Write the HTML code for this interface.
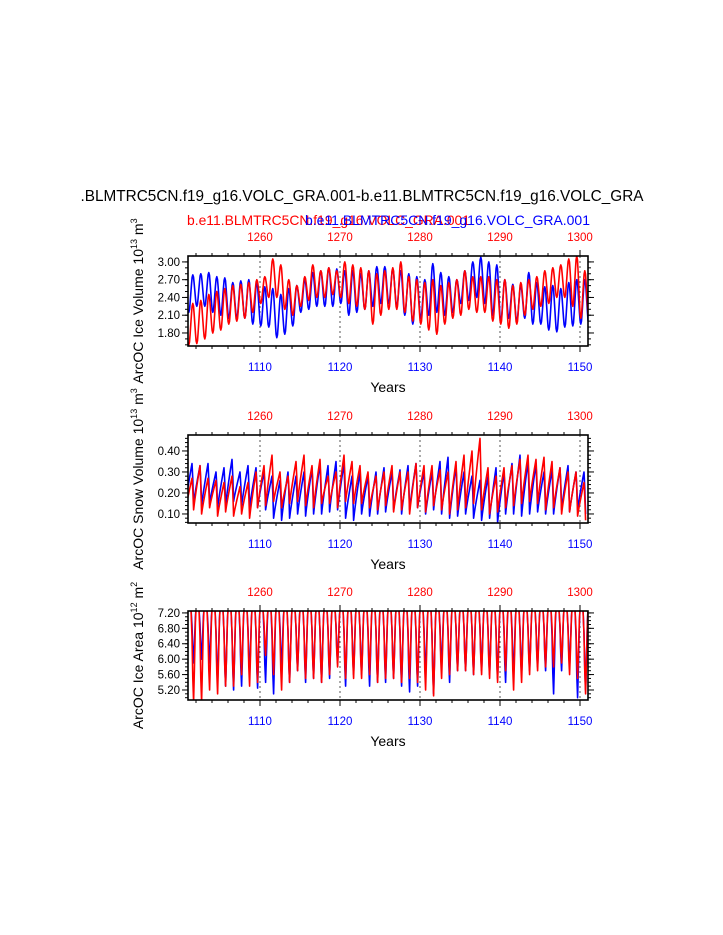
<!DOCTYPE html>
<html><head><meta charset="utf-8"><style>
body{margin:0;background:#fff}
svg{display:block;font-family:"Liberation Sans",sans-serif}
</style></head><body>
<svg id="s" width="723" height="935" viewBox="0 0 723 935">
<text x="362" y="201" font-size="16" text-anchor="middle" textLength="563" lengthAdjust="spacingAndGlyphs">.BLMTRC5CN.f19_g16.VOLC_GRA.001-b.e11.BLMTRC5CN.f19_g16.VOLC_GRA</text>
<text x="187" y="225" font-size="14" fill="#f00" textLength="283" lengthAdjust="spacingAndGlyphs">b.e11.BLMTRC5CN.f19_g16.VOLC_GRA.001</text>
<text x="305" y="225" font-size="14" fill="#00f" textLength="285" lengthAdjust="spacingAndGlyphs">b.e11.BLMTRC5CN.f19_g16.VOLC_GRA.001</text>
</svg>
<script>
const years=[];for(let y=1101;y<=1150;y++)years.push(y);
const bottomTicks=[1110,1120,1130,1140,1150];
const topTicks=[1260,1270,1280,1290,1300];
const volTicks=[1.80,2.10,2.40,2.70,3.00];
const snowTicks=[0.10,0.20,0.30,0.40];
const areaTicks=[5.20,5.60,6.00,6.40,6.80,7.20];
const volBlueMax=[2.78,2.80,2.82,2.75,2.73,2.65,2.68,2.70,2.65,2.58,2.55,2.45,2.55,2.60,2.70,2.82,2.85,2.90,2.88,2.85,2.85,2.80,2.85,2.92,2.92,2.88,2.85,2.80,2.75,2.70,2.97,2.82,2.75,2.70,2.85,3.00,3.08,3.00,2.95,2.70,2.62,2.60,2.82,2.65,2.58,2.60,2.55,2.65,2.70,2.70];
const volBlueMin=[2.15,2.25,2.25,2.15,2.10,2.05,2.05,2.05,1.95,1.92,1.90,1.72,1.78,1.92,2.15,2.20,2.25,2.25,2.25,2.30,2.10,2.15,2.20,2.25,2.30,2.30,2.25,2.10,1.95,2.05,2.10,2.15,2.10,2.15,2.30,2.35,2.40,2.30,2.10,2.00,2.05,2.00,2.05,1.95,1.95,1.85,1.82,1.90,1.92,1.95];
const volRedMax=[2.30,2.35,2.45,2.50,2.55,2.60,2.62,2.65,2.70,2.75,3.05,2.95,2.70,2.60,2.75,2.95,2.85,2.90,2.85,3.00,2.95,2.90,2.85,2.80,2.85,2.90,3.00,2.75,2.70,2.65,2.70,2.60,2.65,2.70,2.85,2.75,2.75,2.75,2.70,2.70,2.60,2.65,2.70,2.75,2.85,2.90,2.95,3.05,3.10,2.85];
const volRedMin=[1.60,1.62,1.70,1.80,1.85,1.95,2.00,2.05,2.15,2.30,2.40,2.40,2.20,2.10,2.25,2.35,2.40,2.40,2.45,2.40,2.30,2.25,2.20,1.95,2.10,2.20,2.20,2.15,2.00,1.95,1.85,1.78,1.95,2.05,2.10,2.20,2.15,2.15,2.00,1.95,1.88,1.95,2.10,2.20,2.25,2.30,2.40,2.40,2.25,2.05];
const snowBlueMax=[0.34,0.33,0.34,0.30,0.32,0.36,0.30,0.33,0.32,0.30,0.28,0.26,0.30,0.28,0.30,0.32,0.34,0.33,0.35,0.34,0.28,0.30,0.28,0.30,0.32,0.30,0.31,0.33,0.34,0.30,0.30,0.35,0.37,0.33,0.30,0.28,0.26,0.28,0.32,0.30,0.34,0.38,0.35,0.34,0.30,0.31,0.32,0.33,0.30,0.30];
const snowBlueMin=[0.15,0.14,0.15,0.13,0.14,0.16,0.14,0.13,0.13,0.12,0.08,0.07,0.08,0.10,0.09,0.10,0.10,0.11,0.12,0.08,0.07,0.10,0.09,0.10,0.11,0.12,0.10,0.12,0.13,0.10,0.12,0.10,0.08,0.09,0.10,0.08,0.07,0.08,0.06,0.10,0.10,0.09,0.10,0.11,0.10,0.10,0.12,0.11,0.12,0.10];
const snowRedMax=[0.27,0.33,0.27,0.26,0.25,0.28,0.23,0.25,0.30,0.33,0.38,0.30,0.28,0.35,0.38,0.33,0.36,0.28,0.30,0.38,0.35,0.33,0.30,0.28,0.30,0.33,0.30,0.30,0.34,0.33,0.33,0.31,0.30,0.35,0.38,0.40,0.46,0.32,0.28,0.32,0.33,0.36,0.38,0.36,0.37,0.35,0.32,0.30,0.30,0.25];
const snowRedMin=[0.12,0.10,0.13,0.09,0.11,0.09,0.10,0.08,0.13,0.14,0.16,0.13,0.15,0.16,0.14,0.13,0.15,0.15,0.13,0.16,0.15,0.15,0.13,0.12,0.14,0.11,0.12,0.10,0.13,0.11,0.14,0.12,0.10,0.12,0.13,0.15,0.12,0.10,0.11,0.13,0.14,0.15,0.16,0.15,0.12,0.13,0.10,0.11,0.09,0.07];
const areaBlueMin=[5.9,6.0,5.9,5.4,5.3,5.2,5.3,5.6,5.25,5.4,5.1,5.8,5.4,5.7,5.4,5.5,5.4,5.5,5.9,5.3,5.6,5.6,5.3,5.4,5.4,5.5,5.3,5.15,5.3,5.6,5.1,5.8,5.4,5.7,5.7,5.6,5.7,5.6,5.5,5.4,5.6,5.6,5.7,5.8,5.7,5.1,5.7,5.8,5.0,5.2];
const areaRedMin=[4.9,4.9,5.2,5.1,5.3,5.3,5.6,5.3,5.4,6.1,5.6,5.2,5.4,5.7,5.5,5.5,5.4,5.6,5.8,5.5,5.5,5.5,5.6,5.4,5.5,5.5,5.4,5.5,5.4,5.2,5.05,5.5,5.6,5.7,5.7,5.6,5.6,5.5,5.4,5.7,5.2,5.4,5.6,5.7,5.8,5.8,5.9,5.6,5.5,5.1];
const areaMax=7.3;

const NS="http://www.w3.org/2000/svg";
const svg=document.getElementById('s');
const X0=188,X1=588,T0=1101,T1=1151;
const xs=t=>X0+(t-T0)*(X1-X0)/(T1-T0);
function mk(tag,at,parent){const e=document.createElementNS(NS,tag);for(const k in at)e.setAttribute(k,at[k]);(parent||svg).appendChild(e);return e;}
const panels=[
 {top:256,bot:346,lo:1.58,hi:3.10,ticks:volTicks,minor:0.1,ttl:'ArcOC Ice Volume 10',exp:'13',unit:' m',uexp:'3',name:'ice-volume'},
 {top:435,bot:523,lo:0.057,hi:0.476,ticks:snowTicks,minor:0.02,ttl:'ArcOC Snow Volume 10',exp:'13',unit:' m',uexp:'3',name:'snow-volume'},
 {top:611,bot:700,lo:4.94,hi:7.25,ticks:areaTicks,minor:0.1,ttl:'ArcOC Ice Area 10',exp:'12',unit:' m',uexp:'2',name:'ice-area'}];
const cos=(a,b,f)=>a+(b-a)*(1-Math.cos(Math.PI*f))/2;
function volSeries(mx,mn){const p=[];for(let i=0;i<years.length;i++){const y=years[i];const nmn=i+1<mn.length?mn[i+1]:mn[i];const pmn=mn[i];
 for(let k=0;k<6;k++)p.push([y+0.1+k/12,cos(pmn,mx[i],k/6)]);for(let k=0;k<6;k++)p.push([y+0.6+k/12,cos(mx[i],nmn,k/6)]);}
 p.unshift([T0-0.4,mn[0]]);return p;}
function snowSeries(mx,mn){const p=[];for(let i=0;i<years.length;i++){const y=years[i];const pmn=i>0?mn[i-1]:mn[0];
 for(let k=0;k<8;k++)p.push([y-0.3+k*0.1,pmn+(mx[i]-pmn)*Math.pow(k/8,0.9)]);p.push([y+0.5,mx[i]]);p.push([y+0.6,(mx[i]+mn[i])/2+0.02]);}
 p.push([T1-0.3,mn[mn.length-1]]);return p;}
function areaSeries(mn){const p=[[T0-0.5,areaMax]];for(let i=0;i<years.length;i++){const y=years[i];const dd=areaMax-mn[i];
 p.push([y+0.38,areaMax]);p.push([y+0.5,areaMax-dd*0.3]);p.push([y+0.6,areaMax-dd*0.75]);p.push([y+0.7,mn[i]]);p.push([y+0.8,areaMax-dd*0.65]);p.push([y+0.92,areaMax-dd*0.15]);p.push([y+1.0,areaMax]);}
 return p;}
const series=[
 [['blue',volSeries(volBlueMax,volBlueMin)],['red',volSeries(volRedMax,volRedMin)]],
 [['blue',snowSeries(snowBlueMax,snowBlueMin)],['red',snowSeries(snowRedMax,snowRedMin)]],
 [['blue',areaSeries(areaBlueMin)],['red',areaSeries(areaRedMin)]]];
panels.forEach((P,pi)=>{
 const ys=v=>P.bot-(v-P.lo)*(P.bot-P.top)/(P.hi-P.lo);
 const g=mk('g',{});
 const cid='c'+pi;const cp=mk('clipPath',{id:cid},g);mk('rect',{x:X0,y:P.top,width:X1-X0,height:P.bot-P.top},cp);
 bottomTicks.forEach(t=>{const l=mk('line',{x1:xs(t),x2:xs(t),y1:P.top,y2:P.bot,stroke:'#555','stroke-width':1,'stroke-dasharray':'2,3'},g);});
 series[pi].forEach(([col,pts])=>{const d=pts.map((q,j)=>(j?'L':'M')+xs(q[0]).toFixed(1)+' '+ys(q[1]).toFixed(1)).join('');
  const pa=mk('path',{d:d,fill:'none',stroke:col==='blue'?'#00f':'#f00','stroke-width':1.6,'clip-path':'url(#'+cid+')','stroke-linejoin':'round'},g);
  });
 const fr=mk('rect',{x:X0,y:P.top,width:X1-X0,height:P.bot-P.top,fill:'none',stroke:'#000','stroke-width':1.6},g);
 
 for(let y=1102;y<=1150;y+=2){const maj=y%10===0,L=maj?6:3;
  mk('line',{x1:xs(y),x2:xs(y),y1:P.bot,y2:P.bot+L,stroke:'#000'},g);mk('line',{x1:xs(y),x2:xs(y),y1:P.top,y2:P.top-L,stroke:'#000'},g);}
 bottomTicks.forEach(t=>{const e=mk('text',{x:xs(t),y:P.bot+25,'font-size':11.5,fill:'#00f','text-anchor':'middle'},g);e.textContent=t;});
 topTicks.forEach((t,i)=>{const e=mk('text',{x:xs(bottomTicks[i]),y:P.top-15,'font-size':11.5,fill:'#f00','text-anchor':'middle'},g);e.textContent=t;});
 for(let v=Math.ceil(P.lo/P.minor)*P.minor;v<=P.hi;v+=P.minor){const yy=ys(v);mk('line',{x1:X0,x2:X0-3,y1:yy,y2:yy,stroke:'#000'},g);mk('line',{x1:X1,x2:X1+3,y1:yy,y2:yy,stroke:'#000'},g);}
 P.ticks.forEach(v=>{const yy=ys(v);mk('line',{x1:X0,x2:X0-6,y1:yy,y2:yy,stroke:'#000'},g);mk('line',{x1:X1,x2:X1+6,y1:yy,y2:yy,stroke:'#000'},g);
  const e=mk('text',{x:X0-8,y:yy+4,'font-size':11.5,'text-anchor':'end'},g);e.textContent=v.toFixed(2);});
 const xt=mk('text',{x:388,y:P.bot+46,'font-size':14,'text-anchor':'middle'},g);xt.textContent='Years';
 
 const cy=(P.top+P.bot)/2;const yt=mk('text',{x:0,y:0,'font-size':14,'text-anchor':'middle',transform:'translate(143,'+cy+') rotate(-90)'},g);
 
 const a=document.createElementNS(NS,'tspan');a.textContent=P.ttl;yt.appendChild(a);
 const b=document.createElementNS(NS,'tspan');b.setAttribute('dy','-6');b.setAttribute('font-size','9');b.textContent=P.exp;yt.appendChild(b);
 const c=document.createElementNS(NS,'tspan');c.setAttribute('dy','6');c.textContent=P.unit;yt.appendChild(c);
 const d=document.createElementNS(NS,'tspan');d.setAttribute('dy','-6');d.setAttribute('font-size','9');d.textContent=P.uexp;yt.appendChild(d);
});
</script>
</body></html>
